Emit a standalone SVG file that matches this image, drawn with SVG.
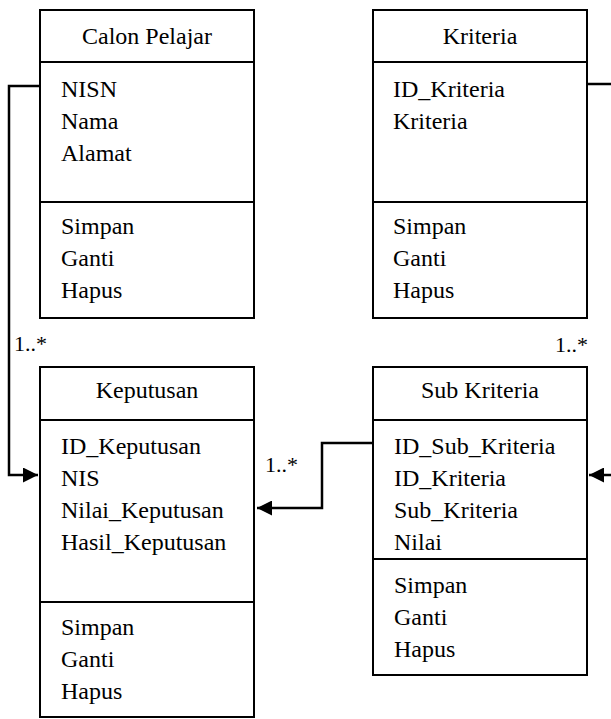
<svg xmlns="http://www.w3.org/2000/svg" width="611" height="719" viewBox="0 0 611 719">
<style>
.box{fill:#fff;stroke:#000;stroke-width:2}
.ln{stroke:#000;stroke-width:2}
text{font-family:'Liberation Serif','Times New Roman',serif;fill:#000}
.t{font-size:24px}
.c{text-anchor:middle}
.lbl{font-size:22px}
.con{fill:none;stroke:#000;stroke-width:2.5}
</style>
<defs>
<marker id="ah" viewBox="0 0 10 10" refX="10" refY="5" markerWidth="6" markerHeight="6" markerUnits="strokeWidth" orient="auto">
<path d="M0,0 L10,5 L0,10 z" fill="#000"/>
</marker>
</defs>
<rect width="611" height="719" fill="#fff"/>
<g id="connectors">
<polyline class="con" points="40,86 9,86 9,475 38,475" marker-end="url(#ah)"/>
<polyline class="con" points="373,443 322,443 322,508 257,508" marker-end="url(#ah)"/>
<polyline class="con" points="587,84 611,84"/>
<polyline class="con" points="611,475 589,475" marker-end="url(#ah)"/>
<text class="lbl" x="14" y="351">1..*</text>
<text class="lbl" x="265" y="472">1..*</text>
<text class="lbl" x="555" y="352">1..*</text>
</g>
<g id="calon-pelajar">
<rect class="box" x="40" y="10" width="214" height="308"/>
<line class="ln" x1="40" y1="62" x2="254" y2="62"/>
<line class="ln" x1="40" y1="202" x2="254" y2="202"/>
<text class="t c" x="147" y="44">Calon Pelajar</text>
<text class="t" x="61" y="97">NISN</text>
<text class="t" x="61" y="129">Nama</text>
<text class="t" x="61" y="161">Alamat</text>
<text class="t" x="61" y="234">Simpan</text>
<text class="t" x="61" y="266">Ganti</text>
<text class="t" x="61" y="298">Hapus</text>
</g>
<g id="kriteria">
<rect class="box" x="373" y="10" width="214" height="308"/>
<line class="ln" x1="373" y1="62" x2="587" y2="62"/>
<line class="ln" x1="373" y1="202" x2="587" y2="202"/>
<text class="t c" x="480" y="44">Kriteria</text>
<text class="t" x="393" y="97">ID_Kriteria</text>
<text class="t" x="393" y="129">Kriteria</text>
<text class="t" x="393" y="234">Simpan</text>
<text class="t" x="393" y="266">Ganti</text>
<text class="t" x="393" y="298">Hapus</text>
</g>
<g id="keputusan">
<rect class="box" x="40" y="367" width="214" height="350"/>
<line class="ln" x1="40" y1="420" x2="254" y2="420"/>
<line class="ln" x1="40" y1="602" x2="254" y2="602"/>
<text class="t c" x="147" y="398">Keputusan</text>
<text class="t" x="61" y="454">ID_Keputusan</text>
<text class="t" x="61" y="486">NIS</text>
<text class="t" x="61" y="518">Nilai_Keputusan</text>
<text class="t" x="61" y="550">Hasil_Keputusan</text>
<text class="t" x="61" y="635">Simpan</text>
<text class="t" x="61" y="667">Ganti</text>
<text class="t" x="61" y="699">Hapus</text>
</g>
<g id="sub-kriteria">
<rect class="box" x="373" y="367" width="214" height="308"/>
<line class="ln" x1="373" y1="420" x2="587" y2="420"/>
<line class="ln" x1="373" y1="559" x2="587" y2="559"/>
<text class="t c" x="480" y="398">Sub Kriteria</text>
<text class="t" x="394" y="454">ID_Sub_Kriteria</text>
<text class="t" x="394" y="486">ID_Kriteria</text>
<text class="t" x="394" y="518">Sub_Kriteria</text>
<text class="t" x="394" y="550">Nilai</text>
<text class="t" x="394" y="593">Simpan</text>
<text class="t" x="394" y="625">Ganti</text>
<text class="t" x="394" y="657">Hapus</text>
</g>
</svg>
